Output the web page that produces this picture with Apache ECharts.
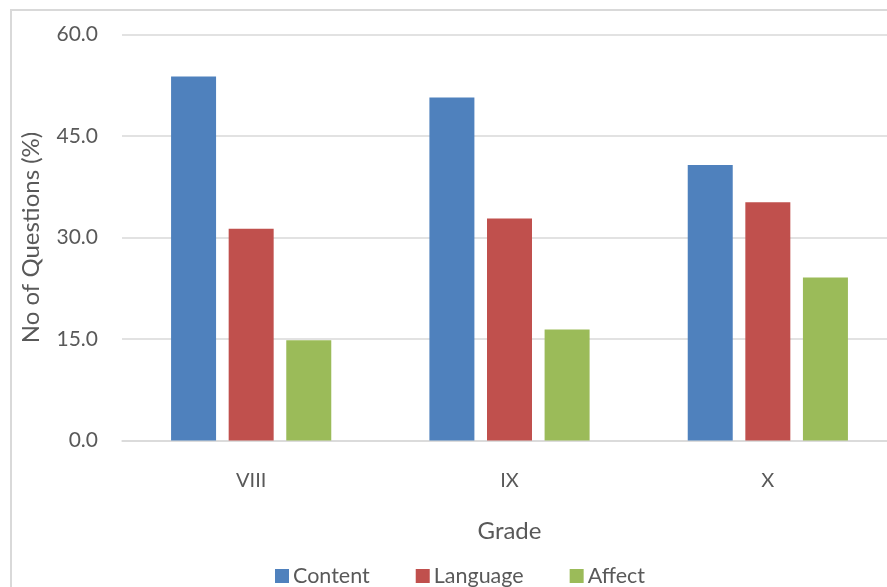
<!DOCTYPE html>
<html>
<head>
<meta charset="utf-8">
<script src="https://cdn.jsdelivr.net/npm/echarts@6/dist/echarts.min.js"></script>
<style>
  html, body { margin: 0; padding: 0; background: #ffffff; overflow: hidden; }
  #chart { width: 920px; height: 587px; }
</style>
</head>
<body>
<div id="chart"></div>
<script>
// Share of questions (%) by grade and question type
const grades = ['VIII', 'IX', 'X'];
const contentValues = [53.8, 50.7, 40.7];
const languageValues = [31.3, 32.8, 35.2];
const affectValues = [14.8, 16.4, 24.1];
const yTicks = [0, 15, 30, 45, 60];

const FONT = 'Lato, "Open Sans", sans-serif';
const TEXT = '#595959';
const GRID = '#d9d9d9';

const chart = echarts.init(document.getElementById('chart'), null, { renderer: 'canvas' });

chart.setOption({
  animation: false,
  backgroundColor: '#ffffff',
  textStyle: { fontFamily: FONT },
  graphic: [{
    type: 'rect',
    silent: true,
    shape: { x: 11, y: 10, width: 1000, height: 1000 },
    style: { fill: 'none', stroke: GRID, lineWidth: 2 }
  }],
  grid: { left: 122, width: 775, top: 34.5, height: 406, containLabel: false },
  legend: {
    data: ['Content', 'Language', 'Affect'],
    left: 'center',
    top: 560,
    itemWidth: 14,
    itemHeight: 14,
    itemGap: 46,
    icon: 'rect',
    textStyle: { fontFamily: FONT, fontSize: 21.5, color: TEXT, padding: [0, 0, 0, -1] }
  },
  xAxis: {
    type: 'category',
    data: grades,
    name: 'Grade',
    nameLocation: 'middle',
    nameGap: 79,
    nameTextStyle: { fontFamily: FONT, fontSize: 24, color: TEXT },
    axisLine: { show: true, lineStyle: { color: GRID, width: 1.5 } },
    axisTick: { show: false },
    axisLabel: { fontFamily: FONT, fontSize: 20, color: TEXT, margin: 30 }
  },
  yAxis: {
    type: 'value',
    min: yTicks[0],
    max: yTicks[yTicks.length - 1],
    interval: yTicks[1] - yTicks[0],
    name: 'No of Questions (%)',
    nameLocation: 'middle',
    nameGap: 79,
    nameTextStyle: { fontFamily: FONT, fontSize: 24, color: TEXT },
    axisLine: { show: false },
    axisTick: { show: false },
    splitLine: { lineStyle: { color: GRID, width: 1.5 } },
    axisLabel: {
      fontFamily: FONT, fontSize: 21, color: TEXT, margin: 24,
      formatter: v => v.toFixed(1)
    }
  },
  series: [
    { name: 'Content', type: 'bar', data: contentValues, barWidth: 45, barGap: '28%',
      itemStyle: { color: '#4F81BD' } },
    { name: 'Language', type: 'bar', data: languageValues, barWidth: 45, barGap: '28%',
      itemStyle: { color: '#C0504D' } },
    { name: 'Affect', type: 'bar', data: affectValues, barWidth: 45, barGap: '28%',
      itemStyle: { color: '#9BBB59' } }
  ]
});
</script>
</body>
</html>
